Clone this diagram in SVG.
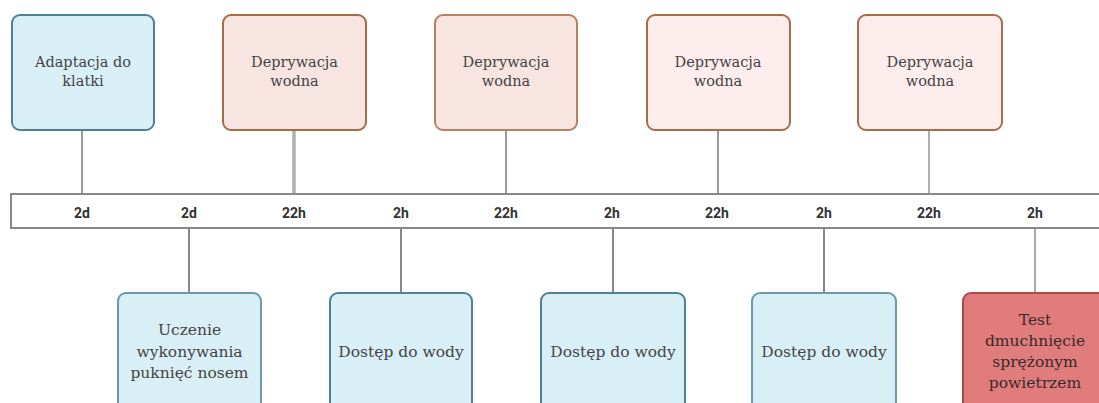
<svg xmlns="http://www.w3.org/2000/svg" width="1099" height="403" viewBox="0 0 1099 403">
<style>
.box{stroke-width:2}
.blue{fill:#d9eff6;stroke:#4e8292}
.brown{fill:#f8e5e2;stroke:#a56b45}
.pink{fill:#fdeded;stroke:#a86d48}
.red{fill:#e07c7c;stroke:#b04a4a}
.t{font-family:"DejaVu Serif","Liberation Serif",serif;font-size:14.5px;fill:#444;text-anchor:middle;dominant-baseline:central}
.tb{font-size:15.5px}
.lbl{font-family:Roboto,"Liberation Sans",sans-serif;font-weight:bold;font-size:14px;fill:#333;text-anchor:middle;dominant-baseline:central}
.c{stroke:#9a9a9a;stroke-width:2;fill:none}
</style>
<rect width="1099" height="403" fill="#fff"/>
<g id="connectors">
<line class="c" x1="82" y1="130" x2="82" y2="194"/>
<line class="c" x1="294" y1="130" x2="294" y2="194" style="stroke-width:3.5;stroke:#b0b0b0"/>
<line class="c" x1="506" y1="130" x2="506" y2="194"/>
<line class="c" x1="718" y1="130" x2="718" y2="194"/>
<line class="c" x1="929" y1="130" x2="929" y2="194" style="stroke:#b0b0b0"/>
<line class="c" x1="189" y1="228" x2="189" y2="293" style="stroke:#888"/>
<line class="c" x1="401" y1="228" x2="401" y2="293" style="stroke:#888"/>
<line class="c" x1="613" y1="228" x2="613" y2="293" style="stroke:#888"/>
<line class="c" x1="824" y1="228" x2="824" y2="293" style="stroke:#888"/>
<line class="c" x1="1035" y1="228" x2="1035" y2="293" style="stroke:#aaa"/>
</g>
<g id="timeline">
<rect x="11" y="194" width="1100" height="34" fill="#fff" stroke="#888" stroke-width="2"/>
<text class="lbl" x="82" y="213">2d</text>
<text class="lbl" x="189" y="213">2d</text>
<text class="lbl" x="294" y="213">22h</text>
<text class="lbl" x="401" y="213">2h</text>
<text class="lbl" x="506" y="213">22h</text>
<text class="lbl" x="612" y="213">2h</text>
<text class="lbl" x="717" y="213">22h</text>
<text class="lbl" x="824" y="213">2h</text>
<text class="lbl" x="929" y="213">22h</text>
<text class="lbl" x="1035" y="213">2h</text>
</g>
<g id="n1"><rect class="box blue" x="12" y="15" width="142" height="115" rx="8"/>
<text class="t" x="83" y="62">Adaptacja do</text><text class="t" x="83" y="81">klatki</text></g>
<g id="n2"><rect class="box brown" x="223" y="15" width="143" height="115" rx="8"/>
<text class="t" x="294.5" y="62">Deprywacja</text><text class="t" x="294.5" y="81">wodna</text></g>
<g id="n3"><rect class="box brown" x="435" y="15" width="142" height="115" rx="8" style="stroke:#b88060"/>
<text class="t" x="506" y="62">Deprywacja</text><text class="t" x="506" y="81">wodna</text></g>
<g id="n4"><rect class="box pink" x="647" y="15" width="143" height="115" rx="8"/>
<text class="t" x="718" y="62">Deprywacja</text><text class="t" x="718" y="81">wodna</text></g>
<g id="n5"><rect class="box pink" x="858" y="15" width="144" height="115" rx="8"/>
<text class="t" x="930" y="62">Deprywacja</text><text class="t" x="930" y="81">wodna</text></g>
<g id="n6"><rect class="box blue" x="118" y="293" width="143" height="120" rx="8" style="stroke:#6a9aaa"/>
<text class="t tb" x="189.5" y="330">Uczenie</text><text class="t tb" x="189.5" y="352">wykonywania</text><text class="t tb" x="189.5" y="373">puknięć nosem</text></g>
<g id="n7"><rect class="box blue" x="330" y="293" width="142" height="120" rx="8"/>
<text class="t tb" x="401" y="352">Dostęp do wody</text></g>
<g id="n8"><rect class="box blue" x="541" y="293" width="144" height="120" rx="8"/>
<text class="t tb" x="613" y="352">Dostęp do wody</text></g>
<g id="n9"><rect class="box blue" x="752" y="293" width="144" height="120" rx="8" style="stroke:#6a9aaa"/>
<text class="t tb" x="824" y="352">Dostęp do wody</text></g>
<g id="n10"><rect class="box red" x="963" y="293" width="145" height="120" rx="8"/>
<text class="t tb" x="1035" y="320" style="fill:#3a2a2a">Test</text><text class="t tb" x="1035" y="341" style="fill:#3a2a2a">dmuchnięcie</text><text class="t tb" x="1035" y="362" style="fill:#3a2a2a">sprężonym</text><text class="t tb" x="1035" y="383" style="fill:#3a2a2a">powietrzem</text></g>
</svg>
